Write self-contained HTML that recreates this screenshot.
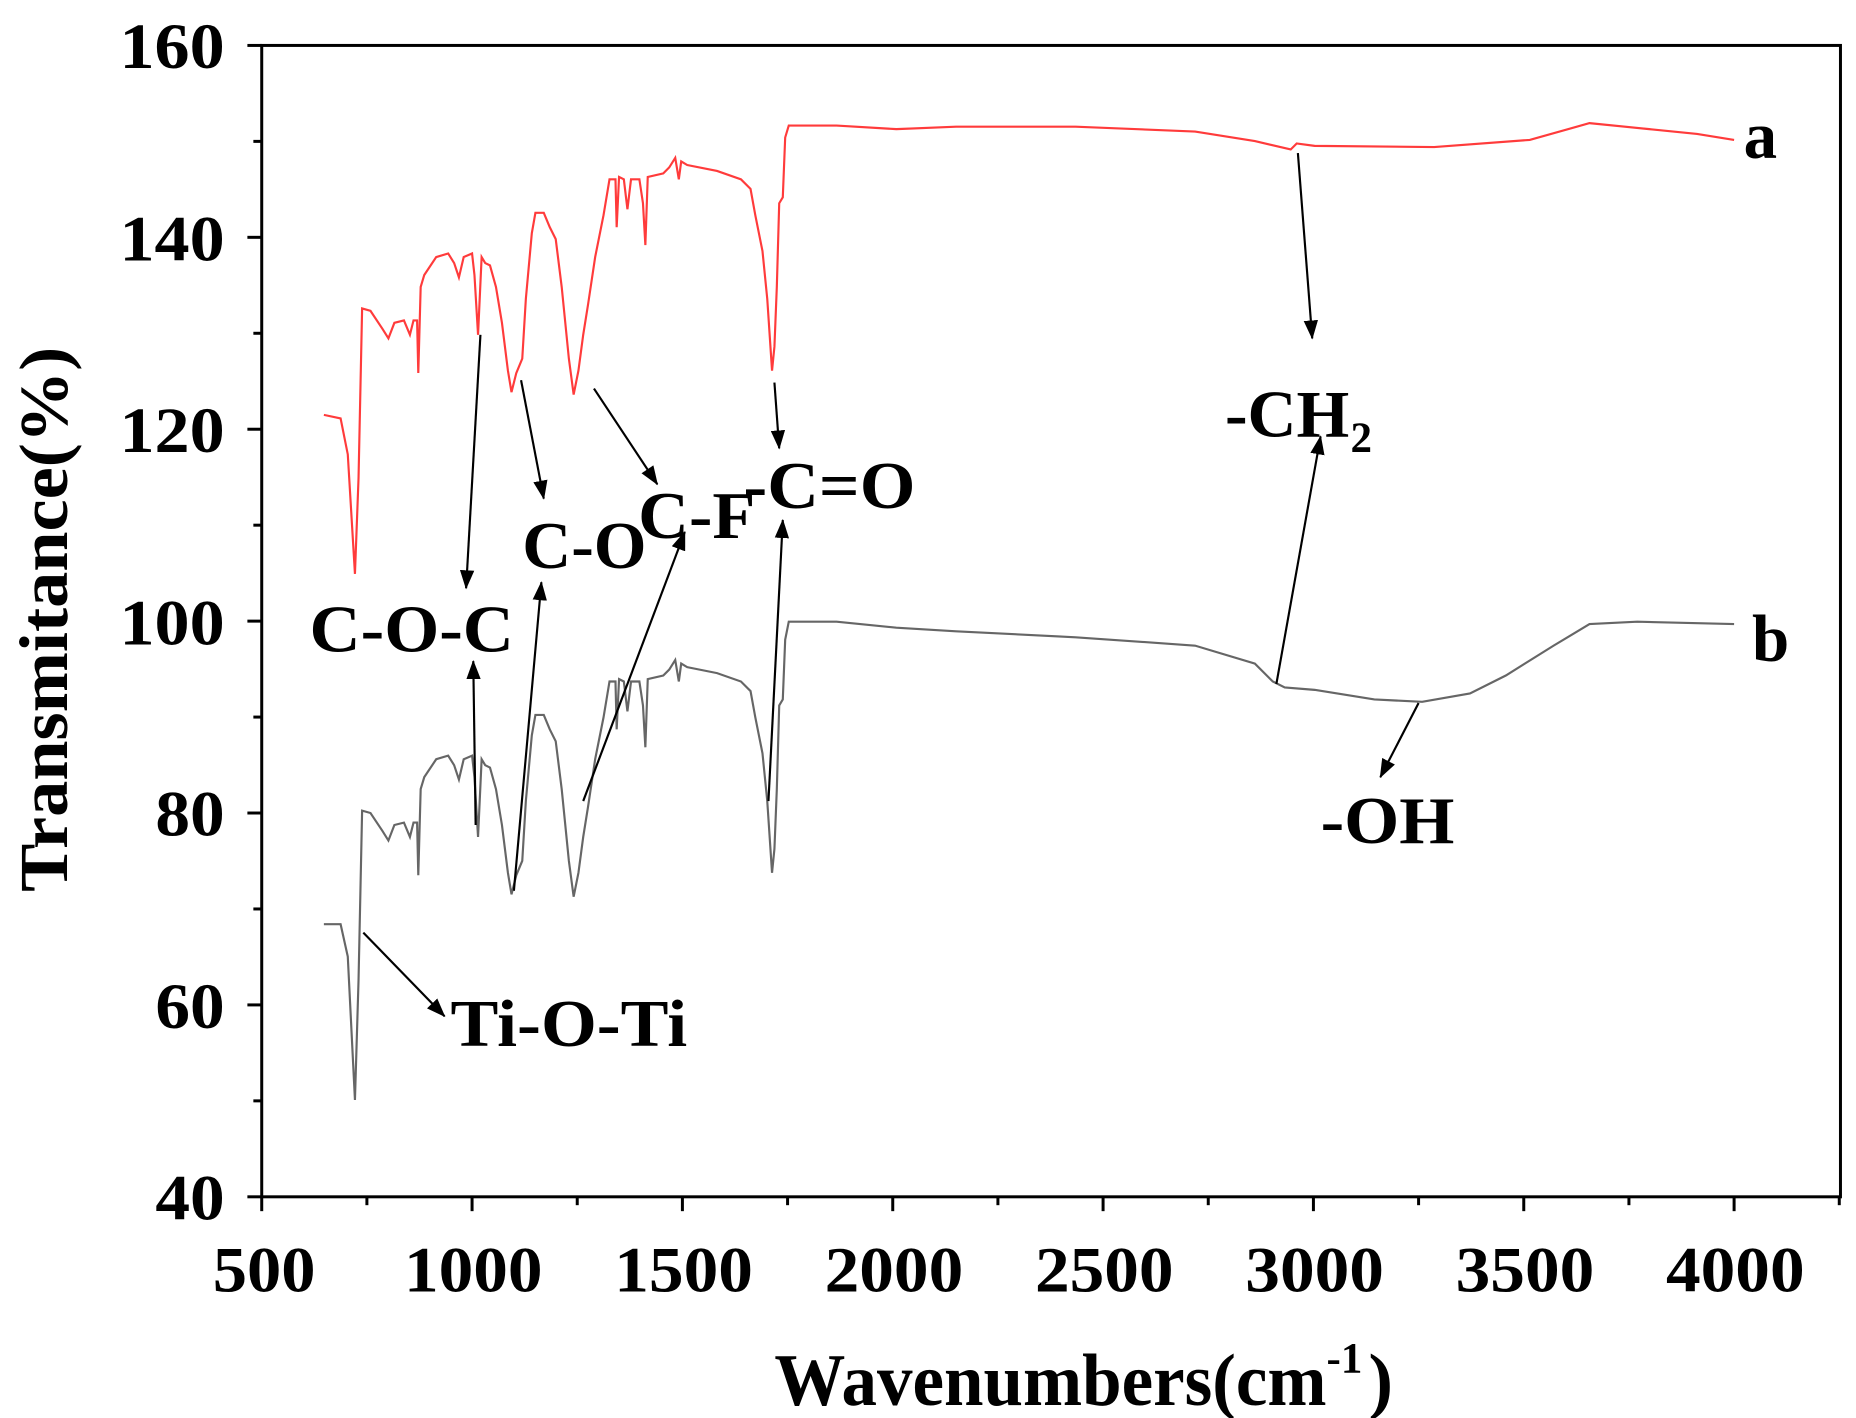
<!DOCTYPE html>
<html><head><meta charset="utf-8"><style>
html,body{margin:0;padding:0;background:#fff;}
svg{display:block;}
text{font-family:"Liberation Serif",serif;font-weight:bold;fill:#000;}
</style></head><body>
<svg width="1856" height="1418" viewBox="0 0 1553 1186" preserveAspectRatio="none" xmlns="http://www.w3.org/2000/svg">
<defs><marker id="ah2" markerWidth="16" markerHeight="12" refX="15" refY="6" orient="auto" markerUnits="userSpaceOnUse"><path d="M0,0 L16,6 L0,12 Z" fill="#000"/></marker></defs>
<rect x="219" y="38" width="1321" height="963" fill="none" stroke="#000" stroke-width="2.5"/>
<g stroke="#000" stroke-width="2.5" id="ticks"></g>
<g font-size="54" text-anchor="end">
<text x="188" y="57" textLength="88" lengthAdjust="spacingAndGlyphs">160</text>
<text x="188" y="218" textLength="88" lengthAdjust="spacingAndGlyphs">140</text>
<text x="188" y="378" textLength="88" lengthAdjust="spacingAndGlyphs">120</text>
<text x="188" y="539" textLength="88" lengthAdjust="spacingAndGlyphs">100</text>
<text x="188" y="699" textLength="58" lengthAdjust="spacingAndGlyphs">80</text>
<text x="188" y="860" textLength="58" lengthAdjust="spacingAndGlyphs">60</text>
<text x="188" y="1020" textLength="58" lengthAdjust="spacingAndGlyphs">40</text></g>
<g font-size="54">
<text x="178" y="1080" textLength="86" lengthAdjust="spacingAndGlyphs">500</text>
<text x="338" y="1080" textLength="116" lengthAdjust="spacingAndGlyphs">1000</text>
<text x="514" y="1080" textLength="116" lengthAdjust="spacingAndGlyphs">1500</text>
<text x="690" y="1080" textLength="116" lengthAdjust="spacingAndGlyphs">2000</text>
<text x="866" y="1080" textLength="116" lengthAdjust="spacingAndGlyphs">2500</text>
<text x="1042" y="1080" textLength="116" lengthAdjust="spacingAndGlyphs">3000</text>
<text x="1218" y="1080" textLength="116" lengthAdjust="spacingAndGlyphs">3500</text>
<text x="1394" y="1080" textLength="116" lengthAdjust="spacingAndGlyphs">4000</text></g>
<text x="648" y="1175" font-size="62" textLength="462" lengthAdjust="spacingAndGlyphs">Wavenumbers(cm</text>
<text x="1110" y="1148" font-size="36">-1</text>
<text x="1145" y="1175" font-size="62">)</text>
<text transform="translate(56,518) rotate(-90)" font-size="58" text-anchor="middle" textLength="456" lengthAdjust="spacingAndGlyphs">Transmitance(%)</text>
<polyline id="pa" fill="none" stroke="#ff3b3b" stroke-width="1.8" points=""/>
<polyline id="pb" fill="none" stroke="#666" stroke-width="1.8" points=""/>
<g stroke="#000" stroke-width="1.8" marker-end="url(#ah2)">
<line x1="1086" y1="128" x2="1098" y2="283"/>
<line x1="1068" y1="572" x2="1105" y2="365"/>
<line x1="1187" y1="588" x2="1155" y2="650"/>
<line x1="648" y1="320" x2="652" y2="375"/>
<line x1="643" y1="670" x2="655" y2="435"/>
<line x1="497" y1="325" x2="550" y2="405"/>
<line x1="488" y1="670" x2="573" y2="445"/>
<line x1="436" y1="318" x2="455" y2="417"/>
<line x1="430" y1="745" x2="453" y2="487"/>
<line x1="402" y1="280" x2="390" y2="492"/>
<line x1="398" y1="690" x2="396" y2="553"/>
<line x1="304" y1="780" x2="372" y2="850"/>
</g>
<g font-size="56">
<text x="259" y="545" textLength="171" lengthAdjust="spacingAndGlyphs">C-O-C</text>
<text x="437" y="475" textLength="104" lengthAdjust="spacingAndGlyphs">C-O</text>
<text x="534" y="450" textLength="98" lengthAdjust="spacingAndGlyphs">C-F</text>
<text x="622" y="425" textLength="144" lengthAdjust="spacingAndGlyphs">-C=O</text>
<text x="1025" y="365" textLength="104" lengthAdjust="spacingAndGlyphs">-CH</text>
<text x="1130" y="378" font-size="36">2</text>
<text x="1105" y="705" textLength="112" lengthAdjust="spacingAndGlyphs">-OH</text>
<text x="377" y="875" textLength="198" lengthAdjust="spacingAndGlyphs">Ti-O-Ti</text>
<text x="1459" y="132">a</text>
<text x="1466" y="553">b</text>
</g>
<script>
var a=[[271,347],[285,350],[291,380],[297,480],[300,400],[303,258],[310,260],[320,275],[325,283],[330,270],[338,268],[343,280],[346,268],[349,268],[350,312],[352,240],[355,230],[365,215],[375,212],[380,220],[384,232],[388,215],[395,212],[397,230],[400,280],[403,215],[406,220],[410,222],[415,240],[420,270],[425,310],[428,328],[432,312],[437,300],[440,250],[445,195],[448,178],[455,178],[460,190],[465,200],[470,240],[476,300],[480,330],[484,310],[488,280],[492,255],[498,215],[505,180],[510,150],[515,150],[516,190],[518,148],[522,150],[525,175],[528,150],[535,150],[538,170],[540,205],[542,148],[555,145],[560,140],[565,132],[568,150],[570,135],[575,138],[600,143],[620,150],[628,158],[632,180],[638,210],[642,250],[646,310],[648,290],[650,240],[652,170],[655,165],[657,115],[660,105]];
var at=[[700,105],[750,108],[800,106],[900,106],[1000,110],[1050,118],[1080,125],[1085,120],[1100,122],[1200,123],[1280,117],[1330,103],[1380,108],[1420,112],[1451,117]];
var bt=[[700,520],[750,525],[800,528],[900,533],[1000,540],[1050,555],[1065,570],[1075,575],[1100,577],[1150,585],[1190,587],[1230,580],[1260,565],[1300,540],[1330,522],[1370,520],[1451,522]];
function s(p){return p.map(function(q){return q[0]+','+q[1]}).join(' ');}
document.getElementById('pa').setAttribute('points',s(a.concat(at)));
var b=a.map(function(q){var y=q[1]+420; if(q[0]==297)y=920; if(q[0]==271||q[0]==285)y=773; return [q[0],y];});
b[b.length-1][1]=520;
document.getElementById('pb').setAttribute('points',s(b.concat(bt)));
var g=document.getElementById('ticks'),NS='http://www.w3.org/2000/svg';
function ln(x1,y1,x2,y2){var l=document.createElementNS(NS,'line');l.setAttribute('x1',x1);l.setAttribute('y1',y1);l.setAttribute('x2',x2);l.setAttribute('y2',y2);g.appendChild(l);}
for(var w=500;w<=4250;w+=250){var x=219+(w-500)*0.352;ln(x,1001,x,1001+((w%500==0)?12:7));}
for(var t=40;t<=160;t+=10){var y=1001-(t-40)*8.025;ln(219,y,219-((t%20==0)?12:7),y);}
</script>
</svg>
</body></html>
